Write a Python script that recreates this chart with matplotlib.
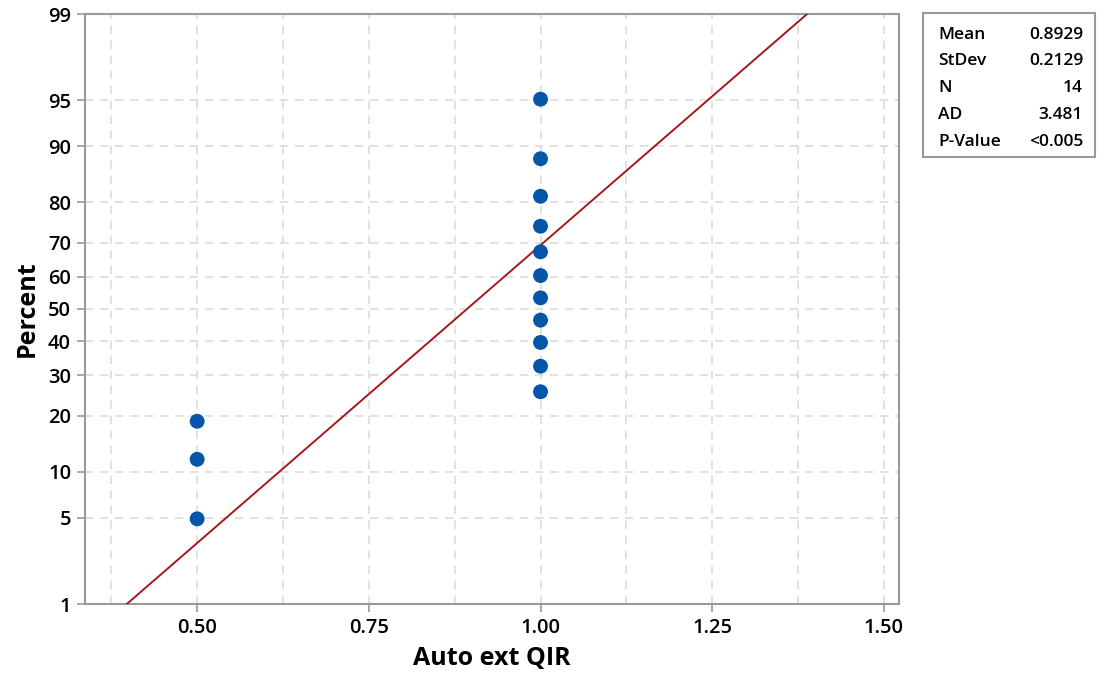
import numpy as np
import matplotlib
matplotlib.use("Agg")
import matplotlib.pyplot as plt
from statistics import NormalDist

plt.rcParams['font.family'] = ['Open Sans', 'DejaVu Sans']

# data
x_values = [0.5, 0.5, 0.5, 1.0, 1.0, 1.0, 1.0, 1.0, 1.0, 1.0, 1.0, 1.0, 1.0, 1.0]
percents = [4.9, 11.8, 18.8, 25.7, 32.6, 39.6, 46.5, 53.5, 60.4, 67.4, 74.3, 81.3, 88.2, 95.1]
mean_val = 0.8929
stdev_val = 0.2129
stat_names = ["Mean", "StDev", "N", "AD", "P-Value"]
stat_values = ["0.8929", "0.2129", "14", "3.481", "<0.005"]
y_ticks = [1, 5, 10, 20, 30, 40, 50, 60, 70, 80, 90, 95, 99]
x_ticks = [0.50, 0.75, 1.00, 1.25, 1.50]
x_minor = [0.375, 0.625, 0.875, 1.125, 1.375]

nd = NormalDist()
_ppf = np.vectorize(nd.inv_cdf, otypes=[float])
_cdf = np.vectorize(nd.cdf, otypes=[float])
def fwd(p):
    p = np.clip(np.asarray(p, dtype=float) / 100.0, 1e-9, 1 - 1e-9)
    return _ppf(p)
def inv(z):
    return _cdf(np.asarray(z, dtype=float)) * 100.0

fig = plt.figure(figsize=(11, 6.81), dpi=100)
ax = fig.add_axes([85/1100, 1 - 604/681, (899 - 85)/1100, (604 - 14)/681])
ax.set_yscale('function', functions=(fwd, inv))
ax.set_ylim(1, 99)
ax.set_xlim(0.3367, 1.522)

# fitted line
pl = np.array([1.0, 99.0])
xl = mean_val + stdev_val * np.array([nd.inv_cdf(p / 100) for p in pl])
ax.plot(xl, pl, color='#A3191E', lw=1.4, zorder=3)

ax.scatter(x_values, percents, s=115, color='#0555A8', zorder=4, edgecolors='none')

ax.set_yticks(y_ticks)
ax.set_yticklabels([str(t) for t in y_ticks])
ax.yaxis.set_minor_locator(matplotlib.ticker.NullLocator())
ax.set_xticks(x_ticks)
ax.set_xticklabels([f"{t:.2f}" for t in x_ticks])
ax.set_xticks(x_minor, minor=True)
ax.tick_params(axis='both', which='major', labelsize=14.5, color='#999999', length=6, width=1.2, pad=4)
for lab in ax.get_xticklabels() + ax.get_yticklabels():
    lab.set_fontweight('semibold')
ax.tick_params(axis='x', which='minor', length=0)
ax.grid(True, which='both', linestyle=(0, (5, 4)), color='#DCDCDC', lw=1.2, zorder=0)
ax.set_axisbelow(True)
for s in ax.spines.values():
    s.set_color('#999999')
    s.set_linewidth(1.5)

ax.set_xlabel("Auto ext QIR", fontsize=18, fontweight='bold', labelpad=6)
ax.set_ylabel("Percent", fontsize=18, fontweight='bold', labelpad=6)

# stats box
from matplotlib.patches import Rectangle
bx0, bx1, by0, by1 = 923/1100, 1095/1100, 1 - 157/681, 1 - 13/681
fig.patches.append(Rectangle((bx0, by0), bx1 - bx0, by1 - by0, transform=fig.transFigure,
                             facecolor='white', edgecolor='#999999', lw=1.5))
rows_y = [35, 61, 88, 115, 142]
for name, val, yy in zip(stat_names, stat_values, rows_y):
    fig.text(938/1100, 1 - yy/681, name, ha='left', va='center', fontsize=12.5, fontweight='semibold')
    fig.text(1083/1100, 1 - yy/681, val, ha='right', va='center', fontsize=12.5, fontweight='semibold')

fig.savefig("out.png", dpi=100)
